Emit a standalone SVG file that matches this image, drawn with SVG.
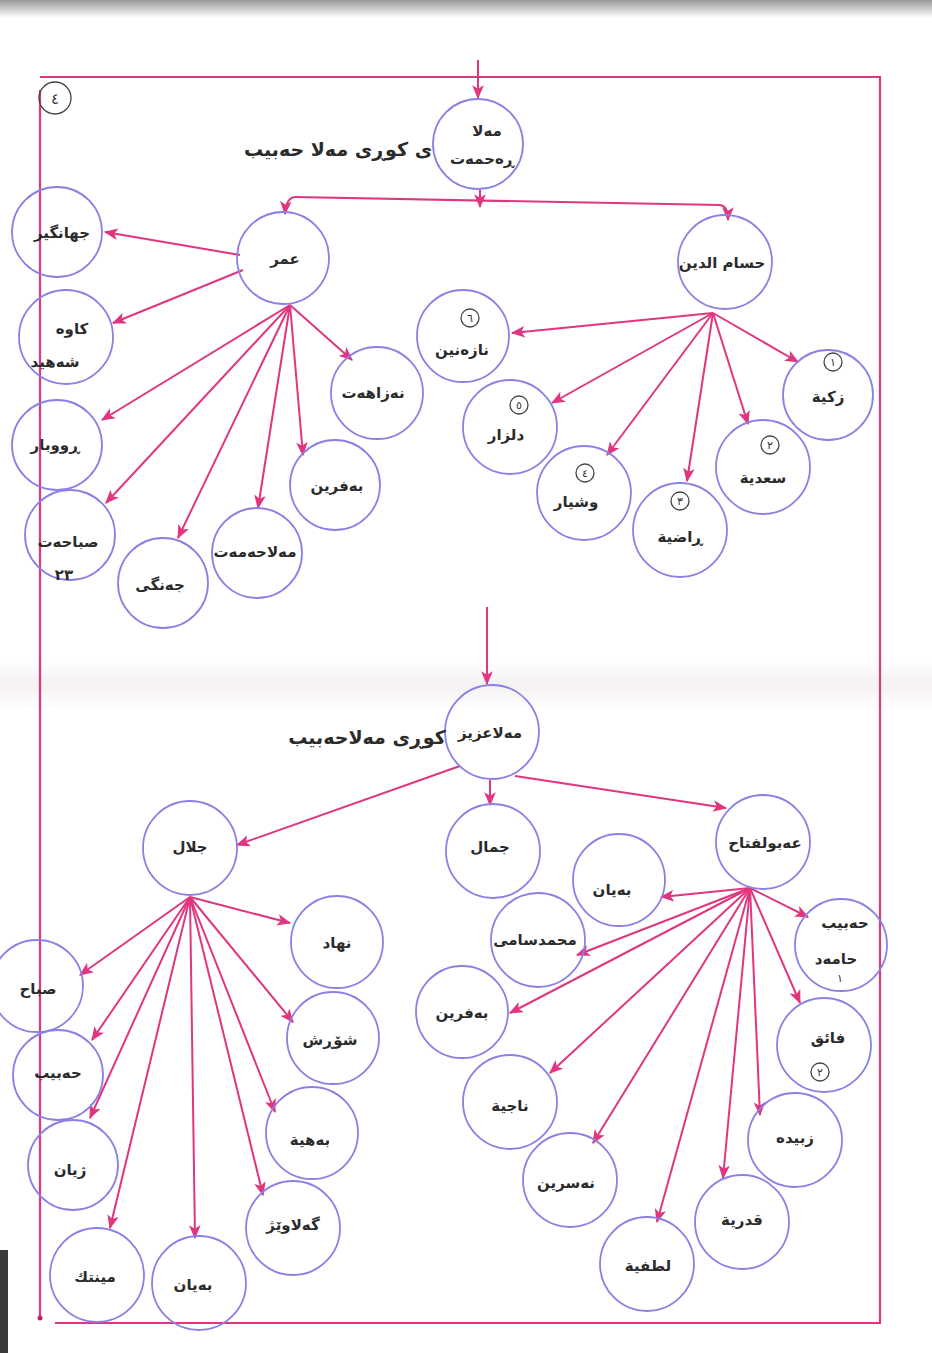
<svg xmlns="http://www.w3.org/2000/svg" width="932" height="1353" viewBox="0 0 932 1353">
<defs>
<style>
.nd{fill:none;stroke:#8b80e4;stroke-width:1.8}
.t{font-family:"DejaVu Sans",sans-serif;font-size:15px;font-weight:bold;fill:#2b2b2b;text-anchor:middle}
.lb{font-family:"DejaVu Sans",sans-serif;font-size:19px;font-weight:bold;fill:#2b2b2b;text-anchor:middle}
.bd{fill:none;stroke:#444;stroke-width:1.3}
.bt{font-family:"DejaVu Sans",sans-serif;font-size:11px;fill:#333;text-anchor:middle}
.c{stroke:#e0367f;stroke-width:2;fill:none;marker-end:url(#ah)}
.fr{stroke:#e0367f;stroke-width:2.2;fill:none}
</style>
<marker id="ah" viewBox="0 0 12 10" refX="11" refY="5" markerWidth="7" markerHeight="6" orient="auto" markerUnits="strokeWidth">
<path d="M0,0 L12,5 L0,10 L3,5 z" fill="#e0367f"/>
</marker>
<linearGradient id="top" x1="0" y1="0" x2="0" y2="1">
<stop offset="0" stop-color="#9a9a9a"/><stop offset="1" stop-color="#ffffff"/>
</linearGradient>
<linearGradient id="fold" x1="0" y1="0" x2="0" y2="1">
<stop offset="0" stop-color="#ffffff"/><stop offset="0.5" stop-color="#f5f1f2"/><stop offset="1" stop-color="#ffffff"/>
</linearGradient>
</defs>
<rect width="932" height="1353" fill="#ffffff"/>
<rect width="932" height="18" fill="url(#top)"/>
<rect y="660" width="932" height="50" fill="url(#fold)"/>
<rect x="0" y="1250" width="8" height="103" fill="#3a3a3a"/>

<g id="frame">
<path class="fr" d="M40,77 L880,77 L880,1323 L55,1323"/>
<path class="fr" d="M40,90 L40,1318"/>
<circle cx="40" cy="1318" r="2.5" fill="#c0205f"/>
<circle class="bd" cx="55" cy="98" r="16"/>
<text class="bt" x="55" y="104" style="font-size:15px">٤</text>
</g>

<g id="connectors">
<path class="c" d="M478,60 L478,98"/>
<path class="c" d="M480,190 L480,207"/>
<path class="fr" d="M295,197 L720,205"/>
<path class="c" d="M295,197 Q286,198 285,214"/>
<path class="c" d="M720,205 Q728,206 728,220"/>
<path class="c" d="M240,255 L105,232"/>
<path class="c" d="M243,270 L113,323"/>
<path class="c" d="M290,305 L102,420"/>
<path class="c" d="M290,305 L106,503"/>
<path class="c" d="M290,305 L178,538"/>
<path class="c" d="M290,305 L258,508"/>
<path class="c" d="M290,305 L303,455"/>
<path class="c" d="M290,305 L352,360"/>
<path class="c" d="M713,313 L512,333"/>
<path class="c" d="M713,313 L798,362"/>
<path class="c" d="M713,313 L552,403"/>
<path class="c" d="M713,313 L607,455"/>
<path class="c" d="M713,313 L687,481"/>
<path class="c" d="M713,313 L748,424"/>
<path class="c" d="M487,607 L487,684"/>
<path class="c" d="M460,766 L237,845"/>
<path class="c" d="M490,780 L490,805"/>
<path class="c" d="M515,776 L726,808"/>
<path class="c" d="M750,888 L661,897"/>
<path class="c" d="M750,888 L577,955"/>
<path class="c" d="M750,888 L808,917"/>
<path class="c" d="M750,888 L510,1013"/>
<path class="c" d="M750,888 L800,1003"/>
<path class="c" d="M750,888 L550,1073"/>
<path class="c" d="M750,888 L593,1143"/>
<path class="c" d="M750,888 L657,1222"/>
<path class="c" d="M750,888 L723,1178"/>
<path class="c" d="M750,888 L760,1115"/>
<path class="c" d="M190,897 L290,923"/>
<path class="c" d="M190,897 L80,975"/>
<path class="c" d="M190,897 L92,1040"/>
<path class="c" d="M190,897 L293,1022"/>
<path class="c" d="M190,897 L275,1112"/>
<path class="c" d="M190,897 L90,1118"/>
<path class="c" d="M190,897 L110,1228"/>
<path class="c" d="M190,897 L195,1238"/>
<path class="c" d="M190,897 L263,1195"/>
</g>

<g id="n-root"><circle class="nd" cx="478" cy="144" r="45"/><text class="t" x="487" y="136">مەلا</text><text class="t" x="482" y="164">ڕەحمەت</text></g>
<g id="n-root-label"><text class="lb" x="338" y="156">ی کوڕی مەلا حەبیب</text></g>
<g id="n-omar"><circle class="nd" cx="283" cy="258" r="46"/><text class="t" x="285" y="264">عمر</text></g>
<g id="n-hessam"><circle class="nd" cx="725" cy="262" r="47"/><text class="t" x="722" y="268">حسام الدین</text></g>
<g id="n-jahangir"><circle class="nd" cx="57" cy="232" r="45"/><text class="t" x="62" y="238">جهانگیر</text></g>
<g id="n-kawa"><circle class="nd" cx="66" cy="337" r="47"/><text class="t" x="72" y="334">کاوە</text><text class="t" x="55" y="367">شەهید</text></g>
<g id="n-rubar"><circle class="nd" cx="57" cy="445" r="45"/><text class="t" x="55" y="450">ڕووبار</text></g>
<g id="n-sabahat"><circle class="nd" cx="70" cy="535" r="45"/><text class="t" x="68" y="547">صباحەت</text><text class="t" x="64" y="580">٢٣</text></g>
<g id="n-jangi"><circle class="nd" cx="163" cy="583" r="45"/><text class="t" x="160" y="590">جەنگی</text></g>
<g id="n-malahamat"><circle class="nd" cx="257" cy="553" r="45"/><text class="t" x="255" y="557">مەلاحەمەت</text></g>
<g id="n-bafrin"><circle class="nd" cx="335" cy="485" r="45"/><text class="t" x="337" y="491">بەفرین</text></g>
<g id="n-nazahat"><circle class="nd" cx="377" cy="393" r="46"/><text class="t" x="373" y="398">نەزاهەت</text></g>
<g id="n-nazanin"><circle class="nd" cx="463" cy="336" r="46"/><circle class="bd" cx="470" cy="318" r="9"/><text class="bt" x="470" y="322">٦</text><text class="t" x="462" y="355">نازەنین</text></g>
<g id="n-zakia"><circle class="nd" cx="828" cy="395" r="45"/><circle class="bd" cx="833" cy="362" r="9"/><text class="bt" x="833" y="366">١</text><text class="t" x="828" y="402">زکیة</text></g>
<g id="n-dilzar"><circle class="nd" cx="510" cy="427" r="47"/><circle class="bd" cx="519" cy="405" r="9"/><text class="bt" x="519" y="409">٥</text><text class="t" x="506" y="440">دلزار</text></g>
<g id="n-wishyar"><circle class="nd" cx="584" cy="493" r="47"/><circle class="bd" cx="585" cy="473" r="9"/><text class="bt" x="585" y="477">٤</text><text class="t" x="576" y="507">وشیار</text></g>
<g id="n-razia"><circle class="nd" cx="680" cy="530" r="47"/><circle class="bd" cx="680" cy="501" r="9"/><text class="bt" x="680" y="505">٣</text><text class="t" x="680" y="542">ڕاضیة</text></g>
<g id="n-sadia"><circle class="nd" cx="763" cy="467" r="47"/><circle class="bd" cx="770" cy="445" r="9"/><text class="bt" x="770" y="449">٢</text><text class="t" x="763" y="483">سعدیة</text></g>

<g id="n-aziz"><circle class="nd" cx="492" cy="732" r="47"/><text class="t" x="490" y="738">مەلاعزیز</text></g>
<g id="n-aziz-label"><text class="lb" x="367" y="744">کوڕی مەلاحەبیب</text></g>
<g id="n-jalal"><circle class="nd" cx="190" cy="848" r="47"/><text class="t" x="190" y="852">جلال</text></g>
<g id="n-jamal"><circle class="nd" cx="493" cy="851" r="47"/><text class="t" x="490" y="852">جمال</text></g>
<g id="n-abulfattah"><circle class="nd" cx="763" cy="842" r="47"/><text class="t" x="765" y="848">عەبولفتاح</text></g>
<g id="n-bayan1"><circle class="nd" cx="619" cy="880" r="46"/><text class="t" x="612" y="895">بەیان</text></g>
<g id="n-mhsami"><circle class="nd" cx="538" cy="940" r="47"/><text class="t" x="535" y="945">محمدسامی</text></g>
<g id="n-habibhamad"><circle class="nd" cx="841" cy="945" r="46"/><text class="t" x="845" y="928">حەبیب</text><text class="t" x="836" y="964">حامەد</text><text class="bt" x="840" y="982">١</text></g>
<g id="n-bafrin2"><circle class="nd" cx="462" cy="1012" r="46"/><text class="t" x="462" y="1018">بەفرین</text></g>
<g id="n-faiq"><circle class="nd" cx="824" cy="1045" r="47"/><text class="t" x="828" y="1043">فائق</text><circle class="bd" cx="820" cy="1072" r="9"/><text class="bt" x="820" y="1076">٢</text></g>
<g id="n-najia"><circle class="nd" cx="510" cy="1102" r="47"/><text class="t" x="510" y="1111">ناجیة</text></g>
<g id="n-nasrin"><circle class="nd" cx="570" cy="1180" r="47"/><text class="t" x="566" y="1188">نەسرین</text></g>
<g id="n-latifa"><circle class="nd" cx="647" cy="1264" r="47"/><text class="t" x="648" y="1271">لطفیة</text></g>
<g id="n-qadria"><circle class="nd" cx="742" cy="1222" r="47"/><text class="t" x="742" y="1225">قدریة</text></g>
<g id="n-zubaida"><circle class="nd" cx="795" cy="1140" r="47"/><text class="t" x="795" y="1143">زبیدە</text></g>

<g id="n-nihad"><circle class="nd" cx="337" cy="942" r="46"/><text class="t" x="337" y="948">نهاد</text></g>
<g id="n-sabah"><circle class="nd" cx="37" cy="986" r="46"/><text class="t" x="38" y="994">صباح</text></g>
<g id="n-habib"><circle class="nd" cx="58" cy="1075" r="45"/><text class="t" x="58" y="1078">حەبیب</text></g>
<g id="n-shorsh"><circle class="nd" cx="333" cy="1038" r="46"/><text class="t" x="330" y="1045">شۆڕش</text></g>
<g id="n-bahia"><circle class="nd" cx="312" cy="1133" r="46"/><text class="t" x="310" y="1145">بەهیة</text></g>
<g id="n-zhian"><circle class="nd" cx="73" cy="1165" r="45"/><text class="t" x="70" y="1175">ژیان</text></g>
<g id="n-mink"><circle class="nd" cx="97" cy="1275" r="47"/><text class="t" x="95" y="1282">مینتك</text></g>
<g id="n-bayan2"><circle class="nd" cx="199" cy="1283" r="47"/><text class="t" x="193" y="1290">بەیان</text></g>
<g id="n-galawezh"><circle class="nd" cx="293" cy="1228" r="47"/><text class="t" x="293" y="1230">گەلاوێژ</text></g>
</svg>
